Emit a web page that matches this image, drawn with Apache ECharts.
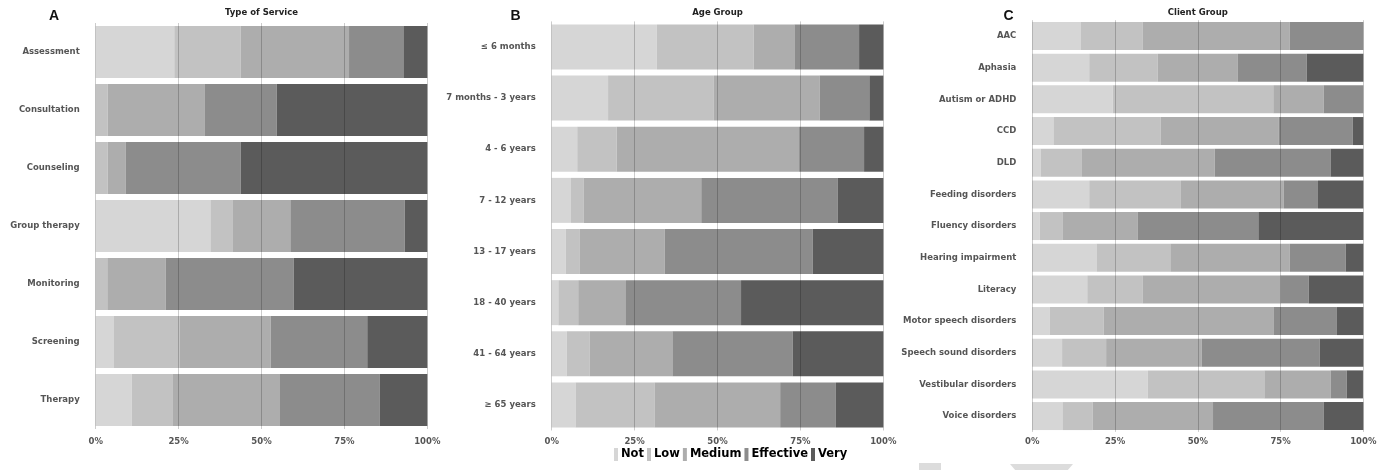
<!DOCTYPE html>
<html>
<head>
<meta charset="utf-8">
<script src="https://cdn.jsdelivr.net/npm/echarts@6/dist/echarts.min.js"></script>
<style>html,body{margin:0;padding:0;background:#fff;}#chart{width:1398px;height:470px;}</style>
</head>
<body>
<div id="chart"></div>
<script>
const levels = ['Not', 'Low', 'Medium', 'Effective', 'Very'];
const levelColors = ['#d6d6d6', '#c2c2c2', '#adadad', '#8c8c8c', '#5b5b5b'];
const xTicks = [0, 25, 50, 75, 100];

const serviceCategories = ['Assessment', 'Consultation', 'Counseling', 'Group therapy', 'Monitoring', 'Screening', 'Therapy'];
const serviceNot = [23.7, 0, 0, 34.6, 0, 5.5, 10.9];
const serviceLow = [20.0, 3.6, 3.6, 6.8, 3.5, 19.9, 12.4];
const serviceMedium = [32.7, 29.2, 5.5, 17.3, 17.6, 27.4, 32.1];
const serviceEffective = [16.4, 21.8, 34.6, 34.5, 38.6, 29.1, 30.3];
const serviceVery = [7.2, 45.4, 56.3, 6.8, 40.3, 18.1, 14.3];

const ageCategories = ['≤ 6 months', '7 months - 3 years', '4 - 6 years', '7 - 12 years', '13 - 17 years', '18 - 40 years', '41 - 64 years', '≥ 65 years'];
const ageNot = [31.7, 17.0, 7.7, 5.8, 4.2, 2.0, 4.5, 7.2];
const ageLow = [29.2, 31.9, 11.9, 3.9, 4.3, 6.0, 6.9, 23.8];
const ageMedium = [12.3, 31.9, 55.0, 35.4, 25.6, 14.4, 25.0, 37.9];
const ageEffective = [19.5, 15.0, 19.6, 41.1, 44.6, 34.7, 36.3, 16.8];
const ageVery = [7.3, 4.2, 5.8, 13.8, 21.3, 42.9, 27.3, 14.3];

const clientCategories = ['AAC', 'Aphasia', 'Autism or ADHD', 'CCD', 'DLD', 'Feeding disorders', 'Fluency disorders', 'Hearing impairment', 'Literacy', 'Motor speech disorders', 'Speech sound disorders', 'Vestibular disorders', 'Voice disorders'];
const clientNot = [14.7, 17.2, 24.3, 6.4, 2.5, 17.2, 2.2, 19.4, 16.6, 5.3, 9.0, 34.9, 9.1];
const clientLow = [18.6, 20.7, 48.5, 32.4, 12.5, 27.7, 6.9, 22.3, 16.7, 16.3, 13.3, 35.2, 9.1];
const clientMedium = [44.5, 24.2, 15.2, 35.6, 40.1, 31.1, 22.7, 36.1, 41.7, 51.4, 28.9, 20.0, 36.4];
const clientEffective = [22.2, 20.8, 12.0, 22.4, 35.0, 10.3, 36.5, 16.9, 8.5, 18.9, 35.6, 4.9, 33.4];
const clientVery = [0, 17.1, 0, 3.2, 9.9, 13.7, 31.7, 5.3, 16.5, 8.1, 13.2, 4.9, 12.0];

const panels = [
  { title: 'Type of Service', letter: 'A', cats: serviceCategories, data: [serviceNot, serviceLow, serviceMedium, serviceEffective, serviceVery],
    grid: { left: 95.7, top: 23, width: 331.6, height: 406 }, barWidth: 52, letterX: 54, labelMargin: 8 },
  { title: 'Age Group', letter: 'B', cats: ageCategories, data: [ageNot, ageLow, ageMedium, ageEffective, ageVery],
    grid: { left: 551.7, top: 21.4, width: 331.6, height: 409.1 }, barWidth: 45, letterX: 515.5, labelMargin: 6.5 },
  { title: 'Client Group', letter: 'C', cats: clientCategories, data: [clientNot, clientLow, clientMedium, clientEffective, clientVery],
    grid: { left: 1032.3, top: 20.2, width: 331, height: 411.7 }, barWidth: 28, letterX: 1008.5, labelMargin: 5 }
];

const font = 'DejaVu Sans';
const grids = [], xAxes = [], yAxes = [], series = [], titles = [];
panels.forEach((p, i) => {
  grids.push(Object.assign({ containLabel: false }, p.grid));
  xAxes.push({
    type: 'value', gridIndex: i, min: xTicks[0], max: xTicks[xTicks.length - 1], interval: 25, z: 10,
    axisLine: { show: false }, axisTick: { show: false },
    axisLabel: { formatter: '{value}%', color: '#555', fontSize: 8.5, fontWeight: 'bold', fontFamily: font, margin: p.labelMargin },
    splitLine: { show: true, lineStyle: { color: 'rgba(0,0,0,0.2)', width: 1 } }
  });
  yAxes.push({
    type: 'category', gridIndex: i, data: p.cats, inverse: true,
    axisLine: { show: false }, axisTick: { show: false }, splitLine: { show: false },
    axisLabel: { color: '#555', fontSize: 8.5, fontWeight: 'bold', fontFamily: font, margin: 16 }
  });
  levels.forEach((lv, k) => {
    series.push({
      name: lv, type: 'bar', stack: 'panel' + i, xAxisIndex: i, yAxisIndex: i,
      data: p.data[k], barWidth: p.barWidth,
      itemStyle: { color: levelColors[k] }, emphasis: { disabled: true }
    });
  });
  titles.push({ text: p.title, left: p.grid.left + p.grid.width / 2, top: 8, textAlign: 'center', padding: 0,
    textStyle: { fontSize: 8.5, fontWeight: 'bold', color: '#222', fontFamily: font } });
  titles.push({ text: p.letter, left: p.letterX, top: 9, textAlign: 'center', padding: 0,
    textStyle: { fontSize: 14, fontWeight: 'bold', color: '#111', fontFamily: 'Liberation Sans' } });
});

const chart = echarts.init(document.getElementById('chart'), null, { renderer: 'canvas' });
chart.setOption({
  animation: false,
  backgroundColor: '#ffffff',
  title: titles,
  legend: {
    data: levels, left: 614, top: 448, padding: 0, icon: 'rect', itemWidth: 4, itemHeight: 13, itemGap: 3,
    textStyle: { fontSize: 11.5, fontWeight: 'bold', color: '#000', fontFamily: font, padding: [0, 0, 0, -2] }
  },
  grid: grids, xAxis: xAxes, yAxis: yAxes, series: series,
  graphic: [
    { type: 'rect', shape: { x: 919, y: 463, width: 22, height: 8 }, style: { fill: '#dcdcdc' }, silent: true },
    { type: 'polygon', shape: { points: [[1010, 464], [1073, 464], [1067, 471], [1016, 471]] }, style: { fill: '#dcdcdc' }, silent: true }
  ]
});
</script>
</body>
</html>
